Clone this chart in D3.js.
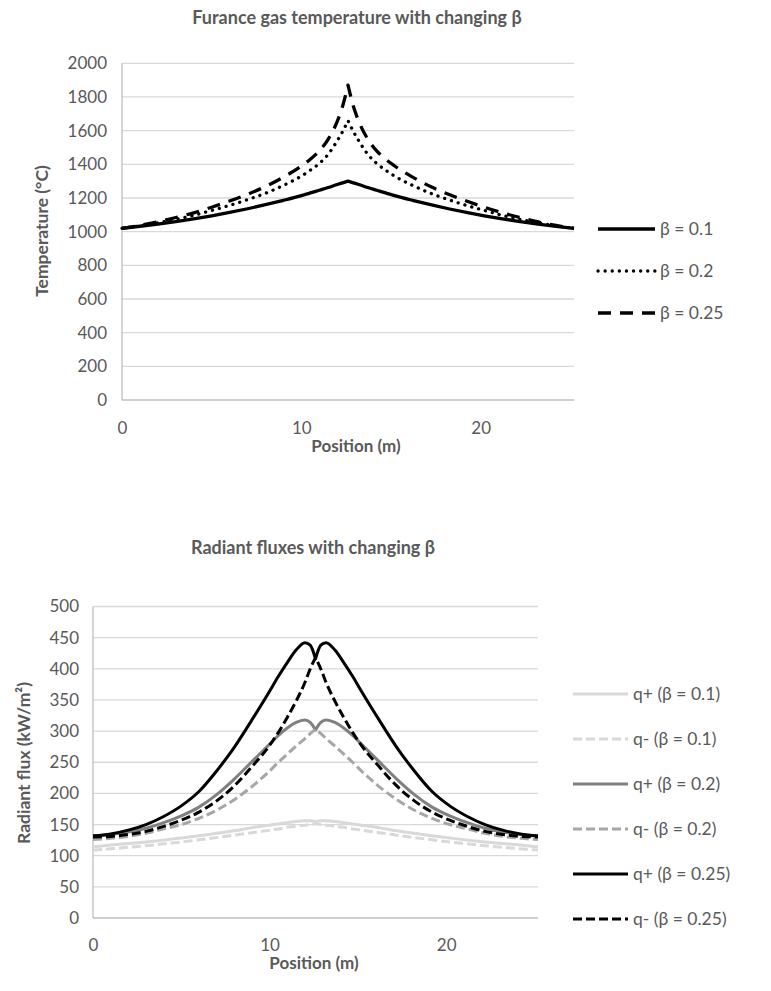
<!DOCTYPE html>
<html><head><meta charset="utf-8">
<script src="https://cdn.jsdelivr.net/npm/d3@7"></script>
<style>
body{margin:0;background:#fff}
text{font-family:Lato,"Open Sans",sans-serif;fill:#595959}
</style>
</head><body>
<svg id="c" width="771" height="991"></svg>
<script>
// ---------- DATA ----------
const tempPositions = [0,1,2,3,4,5,6,7,8,9,10,10.5,11,11.5,12,12.3,12.6,12.9,13.2,13.7,14.2,14.7,15.2,16.2,17.2,18.2,19.2,20.2,21.2,22.2,23.2,24.2,25.2];
const tempBeta01  = [1020,1032,1045,1060,1076,1094,1114,1136,1160,1186,1214,1230,1246,1262,1280,1290,1300,1290,1280,1262,1246,1230,1214,1186,1160,1136,1114,1094,1076,1060,1045,1032,1020];
const tempBeta02  = [1020,1035,1052,1073,1097,1126,1156,1190,1228,1275,1330,1365,1405,1460,1540,1595,1660,1595,1540,1460,1405,1365,1330,1275,1228,1190,1156,1126,1097,1073,1052,1035,1020];
const tempBeta025 = [1020,1037,1058,1084,1112,1145,1182,1222,1268,1324,1390,1430,1480,1550,1655,1745,1870,1745,1655,1550,1480,1430,1390,1324,1268,1222,1182,1145,1112,1084,1058,1037,1020];
const tempSeriesNames = ["β = 0.1","β = 0.2","β = 0.25"];
const tempYTicks = [0,200,400,600,800,1000,1200,1400,1600,1800,2000];
const xTicks = [0,10,20];

const fluxPositions = [0,1,2,3,4,5,6,7,8,9,10,10.5,11,11.5,12,12.3,12.6,12.9,13.2,13.7,14.2,14.7,15.2,16.2,17.2,18.2,19.2,20.2,21.2,22.2,23.2,24.2,25.2];
const qPlus01  = [114,117,119.5,122,125,128.5,132,136,140,145,149,151,153,155,156,156,155,156,156,155,153,151,149,145,140,136,132,128.5,125,122,119.5,117,114];
const qMinus01 = [109,111,113.5,116,119,122,125.5,129,133,137,141,143,145.5,147.5,149,150,151.5,150,149,147.5,145.5,143,141,137,133,129,125.5,122,119,116,113.5,111,109];
const qPlus02  = [131,134,138,144,153,164,178,198,223,251,279,293,305,314,318,314,302,314,318,314,305,293,279,251,223,198,178,164,153,144,138,134,131];
const qMinus02 = [126,128,131,136,143,150,160,173,190,211,236,250,263,276,288,296,303,296,288,276,263,250,236,211,190,173,160,150,143,136,131,128,126];
const qPlus025 = [132,135,141,150,163,180,203,236,274,318,364,388,410,430,442,438,416,438,442,430,410,388,364,318,274,236,203,180,163,150,141,135,132];
const qMinus025= [130,131,134,139,147,157,170,188,212,243,277,298,322,348,378,400,418,400,378,348,322,298,277,243,212,188,170,157,147,139,134,131,130];
const fluxSeriesNames = ["q+ (β = 0.1)","q- (β = 0.1)","q+ (β = 0.2)","q- (β = 0.2)","q+ (β = 0.25)","q- (β = 0.25)"];
const fluxYTicks = [0,50,100,150,200,250,300,350,400,450,500];

// ---------- DRAW ----------
const svg = d3.select("#c");
svg.append("rect").attr("width",771).attr("height",991).attr("fill","#fff");

function splitPath(line, xs, ys){
  const pts = xs.map((x,i)=>[x,ys[i]]);
  let ic = 0; xs.forEach((v,i)=>{ if(Math.abs(v-12.6)<1e-6) ic=i; });
  const a = line(pts.slice(0,ic+1));
  const b = line(pts.slice(ic)).replace(/^M/,"L");
  return a+b;
}

function drawChart(o){
  const g = svg.append("g");
  const x = d3.scaleLinear().domain([0,25.2]).range([o.left,o.right]);
  const y = d3.scaleLinear().domain([0,o.ymax]).range([o.bottom,o.top]);
  g.append("g").selectAll("line").data(o.yTicks.filter(t=>t>0)).join("line")
    .attr("x1",o.left).attr("x2",o.right).attr("y1",d=>y(d)).attr("y2",d=>y(d))
    .attr("stroke","#d9d9d9").attr("stroke-width",1.3);
  g.append("line").attr("x1",o.left).attr("x2",o.right).attr("y1",y(0)).attr("y2",y(0)).attr("stroke","#bfbfbf").attr("stroke-width",1.3);
  g.append("line").attr("x1",o.left).attr("x2",o.left).attr("y1",y(0)).attr("y2",y(o.ymax)).attr("stroke","#bfbfbf").attr("stroke-width",1.3);
  const yAxis = d3.axisLeft(y).tickValues(o.yTicks).tickSize(0).tickPadding(o.left-o.yLabelRight).tickFormat(d3.format("d"));
  const ya = g.append("g").attr("transform",`translate(${o.left},0)`).call(yAxis);
  ya.select(".domain").remove();
  ya.selectAll("text").attr("font-size",17).attr("fill","#595959").style("font-family","Lato");
  const xAxis = d3.axisBottom(x).tickValues(xTicks).tickSize(0).tickPadding(o.xLabelPad).tickFormat(d3.format("d"));
  const xa = g.append("g").attr("transform",`translate(0,${y(0)})`).call(xAxis);
  xa.select(".domain").remove();
  xa.selectAll("text").attr("font-size",17).attr("fill","#595959").style("font-family","Lato");
  g.append("text").attr("x",o.titleX).attr("y",o.titleY).attr("text-anchor","middle")
    .attr("font-size",18).attr("font-weight","bold").text(o.title);
  g.append("text").attr("x",o.xTitleX).attr("y",o.xTitleY).attr("text-anchor","middle")
    .attr("font-size",17).attr("font-weight","bold").text("Position (m)");
  g.append("text").attr("transform",`translate(${o.yTitleX},${o.yTitleY}) rotate(-90)`).attr("text-anchor","middle")
    .attr("dy","0.35em").attr("font-size",17.5).attr("font-weight","bold").text(o.yTitle);
  const line = d3.line().x(d=>x(d[0])).y(d=>y(d[1])).curve(d3.curveMonotoneX);
  o.series.forEach((s,i)=>{
    g.append("path").attr("d",splitPath(line,o.xs,s.values)).attr("fill","none")
      .attr("stroke",s.color).attr("stroke-width",s.width).attr("stroke-dasharray",s.dash||null)
      .attr("stroke-linecap",s.cap||"butt").attr("stroke-linejoin","round");
    const ly = o.legendY[i];
    g.append("line").attr("x1",o.legX1).attr("x2",o.legX2).attr("y1",ly).attr("y2",ly)
      .attr("stroke",s.color).attr("stroke-width",s.width).attr("stroke-dasharray",s.dash||null)
      .attr("stroke-linecap",s.cap||"butt");
    g.append("text").attr("x",o.legX2+5).attr("y",ly).attr("dy","0.35em").attr("font-size",17.5).text(o.names[i]);
  });
}

drawChart({
  left:122,right:574,top:63.3,bottom:400,ymax:2000,yTicks:tempYTicks,yLabelRight:107,xLabelPad:22,
  title:"Furance gas temperature with changing β",titleX:357,titleY:24,xTitleX:356,xTitleY:452,
  yTitle:"Temperature (°C)",yTitleX:42,yTitleY:231,
  xs:tempPositions,
  series:[
    {values:tempBeta01,color:"#000",width:3.3},
    {values:tempBeta02,color:"#000",width:3.3,dash:"0.1 7",cap:"round"},
    {values:tempBeta025,color:"#000",width:3.3,dash:"13 9"}
  ],
  names:tempSeriesNames,legendY:[229,271,313],legX1:598,legX2:655
});

drawChart({
  left:93,right:538,top:606.5,bottom:918,ymax:500,yTicks:fluxYTicks,yLabelRight:79,xLabelPad:21,
  title:"Radiant fluxes with changing β",titleX:313,titleY:554,xTitleX:314,xTitleY:969,
  yTitle:"Radiant flux (kW/m²)",yTitleX:24,yTitleY:763,
  xs:fluxPositions,
  series:[
    {values:qPlus01,color:"#d9d9d9",width:3},
    {values:qMinus01,color:"#d9d9d9",width:3,dash:"9 4"},
    {values:qPlus02,color:"#808080",width:3},
    {values:qMinus02,color:"#a6a6a6",width:3,dash:"9 4"},
    {values:qPlus025,color:"#000",width:3},
    {values:qMinus025,color:"#000",width:3,dash:"9 4"}
  ],
  names:fluxSeriesNames,legendY:[694,739,784,829,874,919],legX1:573,legX2:628
});
</script>
</body></html>
